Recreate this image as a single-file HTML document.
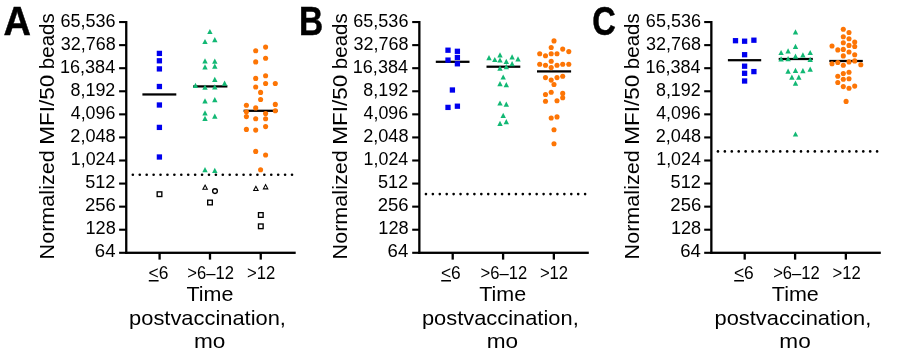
<!DOCTYPE html>
<html><head><meta charset="utf-8"><title>Normalized MFI</title>
<style>
html,body{margin:0;padding:0;background:#fff;width:900px;height:364px;overflow:hidden}
svg{display:block;will-change:transform}
text{font-family:"Liberation Sans", sans-serif;fill:#000}
</style></head><body>
<svg width="900" height="364" viewBox="0 0 900 364">
<rect width="900" height="364" fill="#fff"/>
<text x="3.51" y="34.9" font-size="40.2" font-weight="bold" stroke="#000" stroke-width="0.5" textLength="27.42" lengthAdjust="spacingAndGlyphs">A</text>
<text transform="translate(53.75,259.45) rotate(-90)" x="0" y="0" font-size="20.4" textLength="109.21" lengthAdjust="spacingAndGlyphs">Normalized</text>
<text transform="translate(53.75,144.73) rotate(-90)" x="0" y="0" font-size="20.4" textLength="70.01" lengthAdjust="spacingAndGlyphs">MFI/50</text>
<text transform="translate(53.75,69.16) rotate(-90)" x="0" y="0" font-size="20.4" textLength="55.91" lengthAdjust="spacingAndGlyphs">beads</text>
<text x="60.48" y="27" font-size="17.6" font-weight="normal" textLength="55.16" lengthAdjust="spacingAndGlyphs">65,536</text>
<rect x="119.1" y="21" width="7.15" height="2.1" fill="#000"/>
<text x="60.73" y="49.97" font-size="17.6" font-weight="normal" textLength="54.89" lengthAdjust="spacingAndGlyphs">32,768</text>
<rect x="119.1" y="44.08" width="7.15" height="2.1" fill="#000"/>
<text x="60.02" y="72.94" font-size="17.6" font-weight="normal" textLength="55.16" lengthAdjust="spacingAndGlyphs">16,384</text>
<rect x="119.1" y="67.15" width="7.15" height="2.1" fill="#000"/>
<text x="70.54" y="95.91" font-size="17.6" font-weight="normal" textLength="44.76" lengthAdjust="spacingAndGlyphs">8,192</text>
<rect x="119.1" y="90.22" width="7.15" height="2.1" fill="#000"/>
<text x="70.79" y="118.88" font-size="17.6" font-weight="normal" textLength="44.49" lengthAdjust="spacingAndGlyphs">4,096</text>
<rect x="119.1" y="113.3" width="7.15" height="2.1" fill="#000"/>
<text x="70.37" y="141.85" font-size="17.6" font-weight="normal" textLength="45.33" lengthAdjust="spacingAndGlyphs">2,048</text>
<rect x="119.1" y="136.38" width="7.15" height="2.1" fill="#000"/>
<text x="70.83" y="164.82" font-size="17.6" font-weight="normal" textLength="44.6" lengthAdjust="spacingAndGlyphs">1,024</text>
<rect x="119.1" y="159.45" width="7.15" height="2.1" fill="#000"/>
<text x="85.23" y="187.79" font-size="17.6" font-weight="normal" textLength="30.15" lengthAdjust="spacingAndGlyphs">512</text>
<rect x="119.1" y="182.53" width="7.15" height="2.1" fill="#000"/>
<text x="84.95" y="210.76" font-size="17.6" font-weight="normal" textLength="30.85" lengthAdjust="spacingAndGlyphs">256</text>
<rect x="119.1" y="205.6" width="7.15" height="2.1" fill="#000"/>
<text x="85.51" y="233.73" font-size="17.6" font-weight="normal" textLength="30.28" lengthAdjust="spacingAndGlyphs">128</text>
<rect x="119.1" y="228.67" width="7.15" height="2.1" fill="#000"/>
<text x="94.84" y="256.7" font-size="17.6" font-weight="normal" textLength="20.67" lengthAdjust="spacingAndGlyphs">64</text>
<rect x="119.1" y="251.75" width="7.15" height="2.1" fill="#000"/>
<rect x="125.1" y="21" width="2.3" height="232.95" fill="#000"/>
<rect x="125.1" y="251.65" width="170.6" height="2.3" fill="#000"/>
<rect x="158.45" y="252.8" width="2.3" height="6.8" fill="#000"/>
<rect x="208.85" y="252.8" width="2.3" height="6.8" fill="#000"/>
<rect x="259.6" y="252.8" width="2.3" height="6.8" fill="#000"/>
<text x="148.56" y="279.1" font-size="17.6" font-weight="normal" textLength="19.85" lengthAdjust="spacingAndGlyphs">&lt;6</text>
<rect x="148.8" y="280.0" width="9.8" height="1.5" fill="#000"/>
<text x="187.29" y="279.1" font-size="17.6" font-weight="normal" textLength="46.58" lengthAdjust="spacingAndGlyphs">&gt;6–12</text>
<text x="247.09" y="279.1" font-size="17.6" font-weight="normal" textLength="28.22" lengthAdjust="spacingAndGlyphs">&gt;12</text>
<text x="186.49" y="300.9" font-size="21" font-weight="normal" textLength="46.92" lengthAdjust="spacingAndGlyphs">Time</text>
<text x="129.1" y="325.2" font-size="21" font-weight="normal" textLength="156.82" lengthAdjust="spacingAndGlyphs">postvaccination,</text>
<text x="193.99" y="347.9" font-size="21" font-weight="normal" textLength="31.42" lengthAdjust="spacingAndGlyphs">mo</text>
<circle cx="132.85" cy="174.7" r="1.3" fill="#000"/><circle cx="139.77" cy="174.7" r="1.3" fill="#000"/><circle cx="146.69" cy="174.7" r="1.3" fill="#000"/><circle cx="153.61" cy="174.7" r="1.3" fill="#000"/><circle cx="160.53" cy="174.7" r="1.3" fill="#000"/><circle cx="167.45" cy="174.7" r="1.3" fill="#000"/><circle cx="174.37" cy="174.7" r="1.3" fill="#000"/><circle cx="181.29" cy="174.7" r="1.3" fill="#000"/><circle cx="188.21" cy="174.7" r="1.3" fill="#000"/><circle cx="195.13" cy="174.7" r="1.3" fill="#000"/><circle cx="202.05" cy="174.7" r="1.3" fill="#000"/><circle cx="208.97" cy="174.7" r="1.3" fill="#000"/><circle cx="215.89" cy="174.7" r="1.3" fill="#000"/><circle cx="222.81" cy="174.7" r="1.3" fill="#000"/><circle cx="229.73" cy="174.7" r="1.3" fill="#000"/><circle cx="236.65" cy="174.7" r="1.3" fill="#000"/><circle cx="243.57" cy="174.7" r="1.3" fill="#000"/><circle cx="250.49" cy="174.7" r="1.3" fill="#000"/><circle cx="257.41" cy="174.7" r="1.3" fill="#000"/><circle cx="264.33" cy="174.7" r="1.3" fill="#000"/><circle cx="271.25" cy="174.7" r="1.3" fill="#000"/><circle cx="278.17" cy="174.7" r="1.3" fill="#000"/><circle cx="285.09" cy="174.7" r="1.3" fill="#000"/><circle cx="292.01" cy="174.7" r="1.3" fill="#000"/>
<text x="298.96" y="34.9" font-size="40.2" font-weight="bold" stroke="#000" stroke-width="0.5" textLength="24.17" lengthAdjust="spacingAndGlyphs">B</text>
<text transform="translate(346.55,259.45) rotate(-90)" x="0" y="0" font-size="20.4" textLength="109.21" lengthAdjust="spacingAndGlyphs">Normalized</text>
<text transform="translate(346.55,144.73) rotate(-90)" x="0" y="0" font-size="20.4" textLength="70.01" lengthAdjust="spacingAndGlyphs">MFI/50</text>
<text transform="translate(346.55,69.16) rotate(-90)" x="0" y="0" font-size="20.4" textLength="55.91" lengthAdjust="spacingAndGlyphs">beads</text>
<text x="353.28" y="27" font-size="17.6" font-weight="normal" textLength="55.16" lengthAdjust="spacingAndGlyphs">65,536</text>
<rect x="412.2" y="21" width="7.15" height="2.1" fill="#000"/>
<text x="353.53" y="49.97" font-size="17.6" font-weight="normal" textLength="54.89" lengthAdjust="spacingAndGlyphs">32,768</text>
<rect x="412.2" y="44.08" width="7.15" height="2.1" fill="#000"/>
<text x="352.82" y="72.94" font-size="17.6" font-weight="normal" textLength="55.16" lengthAdjust="spacingAndGlyphs">16,384</text>
<rect x="412.2" y="67.15" width="7.15" height="2.1" fill="#000"/>
<text x="363.34" y="95.91" font-size="17.6" font-weight="normal" textLength="44.76" lengthAdjust="spacingAndGlyphs">8,192</text>
<rect x="412.2" y="90.22" width="7.15" height="2.1" fill="#000"/>
<text x="363.59" y="118.88" font-size="17.6" font-weight="normal" textLength="44.49" lengthAdjust="spacingAndGlyphs">4,096</text>
<rect x="412.2" y="113.3" width="7.15" height="2.1" fill="#000"/>
<text x="363.17" y="141.85" font-size="17.6" font-weight="normal" textLength="45.33" lengthAdjust="spacingAndGlyphs">2,048</text>
<rect x="412.2" y="136.38" width="7.15" height="2.1" fill="#000"/>
<text x="363.63" y="164.82" font-size="17.6" font-weight="normal" textLength="44.6" lengthAdjust="spacingAndGlyphs">1,024</text>
<rect x="412.2" y="159.45" width="7.15" height="2.1" fill="#000"/>
<text x="378.03" y="187.79" font-size="17.6" font-weight="normal" textLength="30.15" lengthAdjust="spacingAndGlyphs">512</text>
<rect x="412.2" y="182.53" width="7.15" height="2.1" fill="#000"/>
<text x="377.75" y="210.76" font-size="17.6" font-weight="normal" textLength="30.85" lengthAdjust="spacingAndGlyphs">256</text>
<rect x="412.2" y="205.6" width="7.15" height="2.1" fill="#000"/>
<text x="378.31" y="233.73" font-size="17.6" font-weight="normal" textLength="30.28" lengthAdjust="spacingAndGlyphs">128</text>
<rect x="412.2" y="228.67" width="7.15" height="2.1" fill="#000"/>
<text x="387.64" y="256.7" font-size="17.6" font-weight="normal" textLength="20.67" lengthAdjust="spacingAndGlyphs">64</text>
<rect x="412.2" y="251.75" width="7.15" height="2.1" fill="#000"/>
<rect x="418.2" y="21" width="2.3" height="232.95" fill="#000"/>
<rect x="418.2" y="251.65" width="170.6" height="2.3" fill="#000"/>
<rect x="451.55" y="252.8" width="2.3" height="6.8" fill="#000"/>
<rect x="501.95" y="252.8" width="2.3" height="6.8" fill="#000"/>
<rect x="552.7" y="252.8" width="2.3" height="6.8" fill="#000"/>
<text x="440.96" y="279.1" font-size="17.6" font-weight="normal" textLength="19.85" lengthAdjust="spacingAndGlyphs">&lt;6</text>
<rect x="441.2" y="280.0" width="9.8" height="1.5" fill="#000"/>
<text x="480.59" y="279.1" font-size="17.6" font-weight="normal" textLength="46.58" lengthAdjust="spacingAndGlyphs">&gt;6–12</text>
<text x="539.89" y="279.1" font-size="17.6" font-weight="normal" textLength="28.22" lengthAdjust="spacingAndGlyphs">&gt;12</text>
<text x="479.29" y="300.9" font-size="21" font-weight="normal" textLength="46.92" lengthAdjust="spacingAndGlyphs">Time</text>
<text x="421.9" y="325.2" font-size="21" font-weight="normal" textLength="156.82" lengthAdjust="spacingAndGlyphs">postvaccination,</text>
<text x="486.79" y="347.9" font-size="21" font-weight="normal" textLength="31.42" lengthAdjust="spacingAndGlyphs">mo</text>
<circle cx="425.95" cy="194.1" r="1.3" fill="#000"/><circle cx="432.87" cy="194.1" r="1.3" fill="#000"/><circle cx="439.79" cy="194.1" r="1.3" fill="#000"/><circle cx="446.71" cy="194.1" r="1.3" fill="#000"/><circle cx="453.63" cy="194.1" r="1.3" fill="#000"/><circle cx="460.55" cy="194.1" r="1.3" fill="#000"/><circle cx="467.47" cy="194.1" r="1.3" fill="#000"/><circle cx="474.39" cy="194.1" r="1.3" fill="#000"/><circle cx="481.31" cy="194.1" r="1.3" fill="#000"/><circle cx="488.23" cy="194.1" r="1.3" fill="#000"/><circle cx="495.15" cy="194.1" r="1.3" fill="#000"/><circle cx="502.07" cy="194.1" r="1.3" fill="#000"/><circle cx="508.99" cy="194.1" r="1.3" fill="#000"/><circle cx="515.91" cy="194.1" r="1.3" fill="#000"/><circle cx="522.83" cy="194.1" r="1.3" fill="#000"/><circle cx="529.75" cy="194.1" r="1.3" fill="#000"/><circle cx="536.67" cy="194.1" r="1.3" fill="#000"/><circle cx="543.59" cy="194.1" r="1.3" fill="#000"/><circle cx="550.51" cy="194.1" r="1.3" fill="#000"/><circle cx="557.43" cy="194.1" r="1.3" fill="#000"/><circle cx="564.35" cy="194.1" r="1.3" fill="#000"/><circle cx="571.27" cy="194.1" r="1.3" fill="#000"/><circle cx="578.19" cy="194.1" r="1.3" fill="#000"/><circle cx="585.11" cy="194.1" r="1.3" fill="#000"/>
<text x="592.13" y="35.4" font-size="40.2" font-weight="bold" stroke="#000" stroke-width="0.5" textLength="23.56" lengthAdjust="spacingAndGlyphs">C</text>
<text transform="translate(639.15,259.45) rotate(-90)" x="0" y="0" font-size="20.4" textLength="109.21" lengthAdjust="spacingAndGlyphs">Normalized</text>
<text transform="translate(639.15,144.73) rotate(-90)" x="0" y="0" font-size="20.4" textLength="70.01" lengthAdjust="spacingAndGlyphs">MFI/50</text>
<text transform="translate(639.15,69.16) rotate(-90)" x="0" y="0" font-size="20.4" textLength="55.91" lengthAdjust="spacingAndGlyphs">beads</text>
<text x="645.88" y="27" font-size="17.6" font-weight="normal" textLength="55.16" lengthAdjust="spacingAndGlyphs">65,536</text>
<rect x="704.2" y="21" width="7.15" height="2.1" fill="#000"/>
<text x="646.13" y="49.97" font-size="17.6" font-weight="normal" textLength="54.89" lengthAdjust="spacingAndGlyphs">32,768</text>
<rect x="704.2" y="44.08" width="7.15" height="2.1" fill="#000"/>
<text x="645.42" y="72.94" font-size="17.6" font-weight="normal" textLength="55.16" lengthAdjust="spacingAndGlyphs">16,384</text>
<rect x="704.2" y="67.15" width="7.15" height="2.1" fill="#000"/>
<text x="655.94" y="95.91" font-size="17.6" font-weight="normal" textLength="44.76" lengthAdjust="spacingAndGlyphs">8,192</text>
<rect x="704.2" y="90.22" width="7.15" height="2.1" fill="#000"/>
<text x="656.19" y="118.88" font-size="17.6" font-weight="normal" textLength="44.49" lengthAdjust="spacingAndGlyphs">4,096</text>
<rect x="704.2" y="113.3" width="7.15" height="2.1" fill="#000"/>
<text x="655.77" y="141.85" font-size="17.6" font-weight="normal" textLength="45.33" lengthAdjust="spacingAndGlyphs">2,048</text>
<rect x="704.2" y="136.38" width="7.15" height="2.1" fill="#000"/>
<text x="656.23" y="164.82" font-size="17.6" font-weight="normal" textLength="44.6" lengthAdjust="spacingAndGlyphs">1,024</text>
<rect x="704.2" y="159.45" width="7.15" height="2.1" fill="#000"/>
<text x="670.63" y="187.79" font-size="17.6" font-weight="normal" textLength="30.15" lengthAdjust="spacingAndGlyphs">512</text>
<rect x="704.2" y="182.53" width="7.15" height="2.1" fill="#000"/>
<text x="670.35" y="210.76" font-size="17.6" font-weight="normal" textLength="30.85" lengthAdjust="spacingAndGlyphs">256</text>
<rect x="704.2" y="205.6" width="7.15" height="2.1" fill="#000"/>
<text x="670.91" y="233.73" font-size="17.6" font-weight="normal" textLength="30.28" lengthAdjust="spacingAndGlyphs">128</text>
<rect x="704.2" y="228.67" width="7.15" height="2.1" fill="#000"/>
<text x="680.24" y="256.7" font-size="17.6" font-weight="normal" textLength="20.67" lengthAdjust="spacingAndGlyphs">64</text>
<rect x="704.2" y="251.75" width="7.15" height="2.1" fill="#000"/>
<rect x="710.2" y="21" width="2.3" height="232.95" fill="#000"/>
<rect x="710.2" y="251.65" width="170.6" height="2.3" fill="#000"/>
<rect x="743.55" y="252.8" width="2.3" height="6.8" fill="#000"/>
<rect x="793.95" y="252.8" width="2.3" height="6.8" fill="#000"/>
<rect x="844.7" y="252.8" width="2.3" height="6.8" fill="#000"/>
<text x="733.96" y="279.1" font-size="17.6" font-weight="normal" textLength="19.85" lengthAdjust="spacingAndGlyphs">&lt;6</text>
<rect x="734.2" y="280.0" width="9.8" height="1.5" fill="#000"/>
<text x="773.19" y="279.1" font-size="17.6" font-weight="normal" textLength="46.58" lengthAdjust="spacingAndGlyphs">&gt;6–12</text>
<text x="832.49" y="279.1" font-size="17.6" font-weight="normal" textLength="28.22" lengthAdjust="spacingAndGlyphs">&gt;12</text>
<text x="771.89" y="300.9" font-size="21" font-weight="normal" textLength="46.92" lengthAdjust="spacingAndGlyphs">Time</text>
<text x="714.5" y="325.2" font-size="21" font-weight="normal" textLength="156.82" lengthAdjust="spacingAndGlyphs">postvaccination,</text>
<text x="779.39" y="347.9" font-size="21" font-weight="normal" textLength="31.42" lengthAdjust="spacingAndGlyphs">mo</text>
<circle cx="717.95" cy="151.4" r="1.3" fill="#000"/><circle cx="724.87" cy="151.4" r="1.3" fill="#000"/><circle cx="731.79" cy="151.4" r="1.3" fill="#000"/><circle cx="738.71" cy="151.4" r="1.3" fill="#000"/><circle cx="745.63" cy="151.4" r="1.3" fill="#000"/><circle cx="752.55" cy="151.4" r="1.3" fill="#000"/><circle cx="759.47" cy="151.4" r="1.3" fill="#000"/><circle cx="766.39" cy="151.4" r="1.3" fill="#000"/><circle cx="773.31" cy="151.4" r="1.3" fill="#000"/><circle cx="780.23" cy="151.4" r="1.3" fill="#000"/><circle cx="787.15" cy="151.4" r="1.3" fill="#000"/><circle cx="794.07" cy="151.4" r="1.3" fill="#000"/><circle cx="800.99" cy="151.4" r="1.3" fill="#000"/><circle cx="807.91" cy="151.4" r="1.3" fill="#000"/><circle cx="814.83" cy="151.4" r="1.3" fill="#000"/><circle cx="821.75" cy="151.4" r="1.3" fill="#000"/><circle cx="828.67" cy="151.4" r="1.3" fill="#000"/><circle cx="835.59" cy="151.4" r="1.3" fill="#000"/><circle cx="842.51" cy="151.4" r="1.3" fill="#000"/><circle cx="849.43" cy="151.4" r="1.3" fill="#000"/><circle cx="856.35" cy="151.4" r="1.3" fill="#000"/><circle cx="863.27" cy="151.4" r="1.3" fill="#000"/><circle cx="870.19" cy="151.4" r="1.3" fill="#000"/><circle cx="877.11" cy="151.4" r="1.3" fill="#000"/>
<rect x="156.75" y="50.75" width="5.3" height="5.3" fill="#0000ee"/>
<rect x="156.75" y="58.15" width="5.3" height="5.3" fill="#0000ee"/>
<rect x="156.75" y="66.25" width="5.3" height="5.3" fill="#0000ee"/>
<rect x="156.75" y="83.85" width="5.3" height="5.3" fill="#0000ee"/>
<rect x="156.75" y="102.35" width="5.3" height="5.3" fill="#0000ee"/>
<rect x="156.75" y="124.75" width="5.3" height="5.3" fill="#0000ee"/>
<rect x="156.75" y="154.35" width="5.3" height="5.3" fill="#0000ee"/>
<rect x="157.18" y="191.88" width="4.65" height="4.65" fill="none" stroke="#000" stroke-width="1.35"/>
<rect x="142.4" y="93.33" width="33.9" height="2.25" fill="#000"/>
<rect x="193.2" y="85.28" width="34.2" height="2.25" fill="#000"/>
<path d="M209.9 28.9L212.6 34.1L207.2 34.1Z" fill="#12b874"/>
<path d="M205 38.9L207.7 44.1L202.3 44.1Z" fill="#12b874"/>
<path d="M214.8 37L217.5 42.2L212.1 42.2Z" fill="#12b874"/>
<path d="M205 58.2L207.7 63.4L202.3 63.4Z" fill="#12b874"/>
<path d="M205 64.3L207.7 69.5L202.3 69.5Z" fill="#12b874"/>
<path d="M214.8 58.6L217.5 63.8L212.1 63.8Z" fill="#12b874"/>
<path d="M214.8 63.6L217.5 68.8L212.1 68.8Z" fill="#12b874"/>
<path d="M214.8 76.8L217.5 82L212.1 82Z" fill="#12b874"/>
<path d="M195.5 82.7L198.2 87.9L192.8 87.9Z" fill="#12b874"/>
<path d="M224.6 80.5L227.3 85.7L221.9 85.7Z" fill="#12b874"/>
<path d="M205 84.6L207.7 89.8L202.3 89.8Z" fill="#12b874"/>
<path d="M214.8 84.2L217.5 89.4L212.1 89.4Z" fill="#12b874"/>
<path d="M205 98.2L207.7 103.4L202.3 103.4Z" fill="#12b874"/>
<path d="M214.8 97L217.5 102.2L212.1 102.2Z" fill="#12b874"/>
<path d="M205 110.2L207.7 115.4L202.3 115.4Z" fill="#12b874"/>
<path d="M205 115.7L207.7 120.9L202.3 120.9Z" fill="#12b874"/>
<path d="M214.8 113.5L217.5 118.7L212.1 118.7Z" fill="#12b874"/>
<path d="M205 167.1L207.7 172.3L202.3 172.3Z" fill="#12b874"/>
<path d="M214.8 167.8L217.5 173L212.1 173Z" fill="#12b874"/>
<path fill-rule="evenodd" d="M205.1 184L208.2 189.8L202 189.8Z M205.1 186.23L206.45 188.75L203.75 188.75Z" fill="#000"/>
<circle cx="215" cy="191.1" r="2.38" fill="none" stroke="#000" stroke-width="1.35"/>
<rect x="207.68" y="200.18" width="4.65" height="4.65" fill="none" stroke="#000" stroke-width="1.35"/>
<rect x="243.6" y="109.67" width="34" height="2.25" fill="#000"/>
<circle cx="265.6" cy="47.1" r="2.55" fill="#fd7505"/>
<circle cx="255.7" cy="50.7" r="2.55" fill="#fd7505"/>
<circle cx="265.6" cy="58.3" r="2.55" fill="#fd7505"/>
<circle cx="255.7" cy="61.9" r="2.55" fill="#fd7505"/>
<circle cx="265.6" cy="75.8" r="2.55" fill="#fd7505"/>
<circle cx="255.7" cy="78.4" r="2.55" fill="#fd7505"/>
<circle cx="265.6" cy="83.5" r="2.55" fill="#fd7505"/>
<circle cx="275.3" cy="83.5" r="2.55" fill="#fd7505"/>
<circle cx="255.7" cy="87" r="2.55" fill="#fd7505"/>
<circle cx="260.6" cy="92.4" r="2.55" fill="#fd7505"/>
<circle cx="260.6" cy="99.5" r="2.55" fill="#fd7505"/>
<circle cx="246.4" cy="105.2" r="2.55" fill="#fd7505"/>
<circle cx="275.3" cy="104.4" r="2.55" fill="#fd7505"/>
<circle cx="255.7" cy="107.9" r="2.55" fill="#fd7505"/>
<circle cx="246.4" cy="111.8" r="2.55" fill="#fd7505"/>
<circle cx="275.3" cy="110.7" r="2.55" fill="#fd7505"/>
<circle cx="265.6" cy="113.5" r="2.55" fill="#fd7505"/>
<circle cx="246.4" cy="116.6" r="2.55" fill="#fd7505"/>
<circle cx="255.7" cy="118.7" r="2.55" fill="#fd7505"/>
<circle cx="265.6" cy="118.7" r="2.55" fill="#fd7505"/>
<circle cx="265.6" cy="126.6" r="2.55" fill="#fd7505"/>
<circle cx="246.4" cy="129.4" r="2.55" fill="#fd7505"/>
<circle cx="255.7" cy="130.1" r="2.55" fill="#fd7505"/>
<circle cx="255.7" cy="151.4" r="2.55" fill="#fd7505"/>
<circle cx="265.6" cy="155" r="2.55" fill="#fd7505"/>
<circle cx="260.6" cy="169.7" r="2.55" fill="#fd7505"/>
<path fill-rule="evenodd" d="M255.9 185.3L259 191.1L252.8 191.1Z M255.9 187.53L257.25 190.05L254.55 190.05Z" fill="#000"/>
<path fill-rule="evenodd" d="M265.6 183.6L268.7 189.4L262.5 189.4Z M265.6 185.83L266.95 188.35L264.25 188.35Z" fill="#000"/>
<rect x="258.48" y="212.68" width="4.65" height="4.65" fill="none" stroke="#000" stroke-width="1.35"/>
<rect x="258.48" y="223.98" width="4.65" height="4.65" fill="none" stroke="#000" stroke-width="1.35"/>
<rect x="435.8" y="60.68" width="33.7" height="2.25" fill="#000"/>
<rect x="445.35" y="47.55" width="5.3" height="5.3" fill="#0000ee"/>
<rect x="454.75" y="48.65" width="5.3" height="5.3" fill="#0000ee"/>
<rect x="454.75" y="54.85" width="5.3" height="5.3" fill="#0000ee"/>
<rect x="445.35" y="57.45" width="5.3" height="5.3" fill="#0000ee"/>
<rect x="454.75" y="61.15" width="5.3" height="5.3" fill="#0000ee"/>
<rect x="449.75" y="87.35" width="5.3" height="5.3" fill="#0000ee"/>
<rect x="445.35" y="104.75" width="5.3" height="5.3" fill="#0000ee"/>
<rect x="454.75" y="103.55" width="5.3" height="5.3" fill="#0000ee"/>
<rect x="486.5" y="65.58" width="33.8" height="2.25" fill="#000"/>
<path d="M500 52.2L502.7 57.4L497.3 57.4Z" fill="#12b874"/>
<path d="M489 55L491.7 60.2L486.3 60.2Z" fill="#12b874"/>
<path d="M494.8 56.9L497.5 62.1L492.1 62.1Z" fill="#12b874"/>
<path d="M500 57.4L502.7 62.6L497.3 62.6Z" fill="#12b874"/>
<path d="M506.3 58.8L509 64L503.6 64Z" fill="#12b874"/>
<path d="M512.1 54.2L514.8 59.4L509.4 59.4Z" fill="#12b874"/>
<path d="M518 56.2L520.7 61.4L515.3 61.4Z" fill="#12b874"/>
<path d="M512.1 61.1L514.8 66.3L509.4 66.3Z" fill="#12b874"/>
<path d="M500 65.5L502.7 70.7L497.3 70.7Z" fill="#12b874"/>
<path d="M506.3 64L509 69.2L503.6 69.2Z" fill="#12b874"/>
<path d="M503.2 74.4L505.9 79.6L500.5 79.6Z" fill="#12b874"/>
<path d="M500 81L502.7 86.2L497.3 86.2Z" fill="#12b874"/>
<path d="M506.3 82L509 87.2L503.6 87.2Z" fill="#12b874"/>
<path d="M500 100.4L502.7 105.6L497.3 105.6Z" fill="#12b874"/>
<path d="M506.3 101.6L509 106.8L503.6 106.8Z" fill="#12b874"/>
<path d="M503.2 112.7L505.9 117.9L500.5 117.9Z" fill="#12b874"/>
<path d="M500 120.8L502.7 126L497.3 126Z" fill="#12b874"/>
<path d="M506.3 119L509 124.2L503.6 124.2Z" fill="#12b874"/>
<rect x="537" y="70.28" width="34.1" height="2.25" fill="#000"/>
<circle cx="554" cy="40.9" r="2.55" fill="#fd7505"/>
<circle cx="551.2" cy="47.5" r="2.55" fill="#fd7505"/>
<circle cx="562.7" cy="49.1" r="2.55" fill="#fd7505"/>
<circle cx="568.8" cy="51.6" r="2.55" fill="#fd7505"/>
<circle cx="539.7" cy="53.7" r="2.55" fill="#fd7505"/>
<circle cx="545.5" cy="55.7" r="2.55" fill="#fd7505"/>
<circle cx="551.2" cy="53.7" r="2.55" fill="#fd7505"/>
<circle cx="557" cy="53.7" r="2.55" fill="#fd7505"/>
<circle cx="551.2" cy="61.2" r="2.55" fill="#fd7505"/>
<circle cx="539.7" cy="64.3" r="2.55" fill="#fd7505"/>
<circle cx="545.5" cy="65.3" r="2.55" fill="#fd7505"/>
<circle cx="551.2" cy="67.6" r="2.55" fill="#fd7505"/>
<circle cx="557" cy="65.3" r="2.55" fill="#fd7505"/>
<circle cx="562.7" cy="64.3" r="2.55" fill="#fd7505"/>
<circle cx="568.8" cy="64.3" r="2.55" fill="#fd7505"/>
<circle cx="545.5" cy="77.6" r="2.55" fill="#fd7505"/>
<circle cx="551.2" cy="80.1" r="2.55" fill="#fd7505"/>
<circle cx="557" cy="77.6" r="2.55" fill="#fd7505"/>
<circle cx="562.7" cy="76.3" r="2.55" fill="#fd7505"/>
<circle cx="554" cy="84.5" r="2.55" fill="#fd7505"/>
<circle cx="551.2" cy="92.2" r="2.55" fill="#fd7505"/>
<circle cx="545.5" cy="94.5" r="2.55" fill="#fd7505"/>
<circle cx="562.7" cy="93.4" r="2.55" fill="#fd7505"/>
<circle cx="562.7" cy="97.8" r="2.55" fill="#fd7505"/>
<circle cx="545.5" cy="101.3" r="2.55" fill="#fd7505"/>
<circle cx="557" cy="100.8" r="2.55" fill="#fd7505"/>
<circle cx="551.2" cy="118" r="2.55" fill="#fd7505"/>
<circle cx="557" cy="116.9" r="2.55" fill="#fd7505"/>
<circle cx="554" cy="129.8" r="2.55" fill="#fd7505"/>
<circle cx="554" cy="143.8" r="2.55" fill="#fd7505"/>
<rect x="727.9" y="59.08" width="33.3" height="2.25" fill="#000"/>
<rect x="732.85" y="38.05" width="5.3" height="5.3" fill="#0000ee"/>
<rect x="741.95" y="38.55" width="5.3" height="5.3" fill="#0000ee"/>
<rect x="751.25" y="37.55" width="5.3" height="5.3" fill="#0000ee"/>
<rect x="741.95" y="52.05" width="5.3" height="5.3" fill="#0000ee"/>
<rect x="741.95" y="63.55" width="5.3" height="5.3" fill="#0000ee"/>
<rect x="741.95" y="70.65" width="5.3" height="5.3" fill="#0000ee"/>
<rect x="751.25" y="68.95" width="5.3" height="5.3" fill="#0000ee"/>
<rect x="741.95" y="78.35" width="5.3" height="5.3" fill="#0000ee"/>
<rect x="778.7" y="57.88" width="34.1" height="2.25" fill="#000"/>
<path d="M795.5 29.2L798.2 34.4L792.8 34.4Z" fill="#12b874"/>
<path d="M795.5 43.7L798.2 48.9L792.8 48.9Z" fill="#12b874"/>
<path d="M781.1 49.9L783.8 55.1L778.4 55.1Z" fill="#12b874"/>
<path d="M788.1 48.3L790.8 53.5L785.4 53.5Z" fill="#12b874"/>
<path d="M795.5 53.5L798.2 58.7L792.8 58.7Z" fill="#12b874"/>
<path d="M802.9 52.2L805.6 57.4L800.2 57.4Z" fill="#12b874"/>
<path d="M810.2 49.9L812.9 55.1L807.5 55.1Z" fill="#12b874"/>
<path d="M781.1 56.3L783.8 61.5L778.4 61.5Z" fill="#12b874"/>
<path d="M788.1 56L790.8 61.2L785.4 61.2Z" fill="#12b874"/>
<path d="M810.2 56.8L812.9 62L807.5 62Z" fill="#12b874"/>
<path d="M788.1 68.5L790.8 73.7L785.4 73.7Z" fill="#12b874"/>
<path d="M795.5 67.7L798.2 72.9L792.8 72.9Z" fill="#12b874"/>
<path d="M802.9 68L805.6 73.2L800.2 73.2Z" fill="#12b874"/>
<path d="M810.2 66.6L812.9 71.8L807.5 71.8Z" fill="#12b874"/>
<path d="M791.9 74.5L794.6 79.7L789.2 79.7Z" fill="#12b874"/>
<path d="M798.8 74.5L801.5 79.7L796.1 79.7Z" fill="#12b874"/>
<path d="M795.5 80.6L798.2 85.8L792.8 85.8Z" fill="#12b874"/>
<path d="M795.5 131.4L798.2 136.6L792.8 136.6Z" fill="#12b874"/>
<rect x="829.3" y="59.88" width="33.5" height="2.25" fill="#000"/>
<circle cx="843.3" cy="29.2" r="2.55" fill="#fd7505"/>
<circle cx="849" cy="32.5" r="2.55" fill="#fd7505"/>
<circle cx="843.3" cy="36.7" r="2.55" fill="#fd7505"/>
<circle cx="849" cy="38.8" r="2.55" fill="#fd7505"/>
<circle cx="843.3" cy="42.8" r="2.55" fill="#fd7505"/>
<circle cx="854.7" cy="42.1" r="2.55" fill="#fd7505"/>
<circle cx="832" cy="46" r="2.55" fill="#fd7505"/>
<circle cx="849" cy="45.4" r="2.55" fill="#fd7505"/>
<circle cx="854.7" cy="46.5" r="2.55" fill="#fd7505"/>
<circle cx="837.8" cy="49.9" r="2.55" fill="#fd7505"/>
<circle cx="843.3" cy="49.4" r="2.55" fill="#fd7505"/>
<circle cx="849" cy="52" r="2.55" fill="#fd7505"/>
<circle cx="854.7" cy="54.7" r="2.55" fill="#fd7505"/>
<circle cx="843.3" cy="55.9" r="2.55" fill="#fd7505"/>
<circle cx="832" cy="63.8" r="2.55" fill="#fd7505"/>
<circle cx="837.8" cy="62.5" r="2.55" fill="#fd7505"/>
<circle cx="843.3" cy="65.2" r="2.55" fill="#fd7505"/>
<circle cx="849" cy="61.9" r="2.55" fill="#fd7505"/>
<circle cx="854.7" cy="60.9" r="2.55" fill="#fd7505"/>
<circle cx="860.8" cy="64.7" r="2.55" fill="#fd7505"/>
<circle cx="843.3" cy="73.5" r="2.55" fill="#fd7505"/>
<circle cx="849" cy="72.2" r="2.55" fill="#fd7505"/>
<circle cx="837.8" cy="76.2" r="2.55" fill="#fd7505"/>
<circle cx="843.3" cy="79.2" r="2.55" fill="#fd7505"/>
<circle cx="849" cy="78.8" r="2.55" fill="#fd7505"/>
<circle cx="837.8" cy="82.5" r="2.55" fill="#fd7505"/>
<circle cx="843.3" cy="86.6" r="2.55" fill="#fd7505"/>
<circle cx="849" cy="88.2" r="2.55" fill="#fd7505"/>
<circle cx="854.7" cy="86.1" r="2.55" fill="#fd7505"/>
<circle cx="846.1" cy="101.4" r="2.55" fill="#fd7505"/>
</svg>
</body></html>
